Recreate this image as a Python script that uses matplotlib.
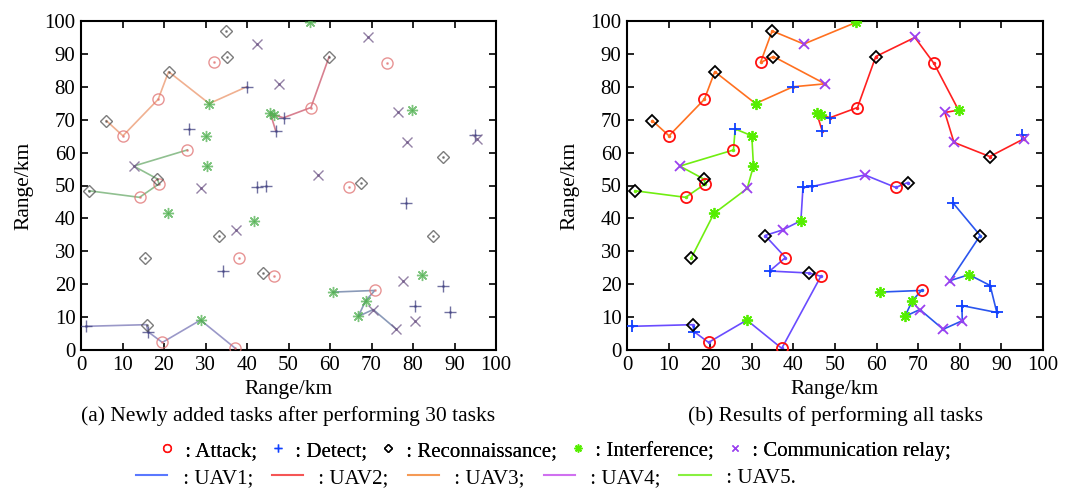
import numpy as np
import matplotlib
matplotlib.use("Agg")
from matplotlib import pyplot as plt
from matplotlib.lines import Line2D

plt.rcParams['font.family'] = ['Liberation Serif', 'DejaVu Serif']

# task positions (km), by task type
attack_x = [10.1, 18.6, 32.1, 55.4, 73.8, 14.1, 18.8, 25.6, 64.6, 38.1, 46.6, 19.6, 37.2, 70.8]
attack_y = [65.1, 76.2, 87.4, 73.7, 87.1, 46.4, 50.5, 60.8, 49.4, 28.1, 22.4, 2.3, 0.5, 18.1]
detect_x = [39.9, 46.9, 48.8, 95.0, 26.0, 42.3, 44.5, 78.3, 34.3, 1.2, 16.1, 87.3, 88.9, 80.5]
detect_y = [80.0, 66.7, 70.6, 65.2, 67.2, 49.4, 49.7, 44.8, 24.0, 7.2, 5.6, 19.6, 11.4, 13.5]
recon_x = [6.1, 21.1, 35.2, 34.9, 59.8, 87.2, 1.9, 18.4, 67.5, 33.2, 84.9, 15.5, 43.8, 15.8]
recon_y = [69.7, 84.6, 89.2, 97.0, 89.2, 58.8, 48.4, 52.0, 50.9, 34.8, 34.8, 28.1, 23.4, 7.7]
interf_x = [30.9, 55.1, 45.6, 46.6, 79.7, 30.0, 30.4, 20.9, 41.8, 82.2, 60.7, 68.6, 66.8, 28.8]
interf_y = [74.9, 99.6, 72.0, 71.4, 72.9, 65.1, 55.9, 41.5, 39.3, 22.9, 17.6, 15.0, 10.2, 9.1]
relay_x = [47.6, 42.5, 69.2, 76.4, 78.6, 95.4, 12.7, 28.9, 57.2, 37.4, 77.7, 80.6, 76.0, 70.4]
relay_y = [80.9, 93.0, 95.0, 72.2, 63.1, 64.2, 55.9, 49.1, 53.2, 36.5, 21.1, 8.9, 6.3, 12.3]

# UAV routes in execution order
uav1_x = [60.7, 70.8, 68.6, 66.8, 70.4, 76.0, 80.6, 80.5, 88.9, 87.3, 82.2, 77.7, 84.9, 78.3]
uav1_y = [17.6, 18.1, 15.0, 10.2, 12.3, 6.3, 8.9, 13.5, 11.4, 19.6, 22.9, 21.1, 34.8, 44.8]
uav2_x = [46.9, 45.6, 46.6, 48.8, 55.4, 59.8, 69.2, 73.8, 79.7, 76.4, 78.6, 87.2, 95.4, 95.0]
uav2_y = [66.7, 72.0, 71.4, 70.6, 73.7, 89.2, 95.0, 87.1, 72.9, 72.2, 63.1, 58.8, 64.2, 65.2]
uav3_x = [6.1, 10.1, 18.6, 21.1, 30.9, 39.9, 47.6, 35.2, 32.1, 34.9, 42.5, 55.1]
uav3_y = [69.7, 65.1, 76.2, 84.6, 74.9, 80.0, 80.9, 89.2, 87.4, 97.0, 93.0, 99.6]
uav4_x = [1.2, 15.8, 16.1, 19.6, 28.8, 37.2, 46.6, 43.8, 34.3, 38.1, 33.2, 37.4, 41.8, 42.3, 44.5, 57.2, 64.6, 67.5]
uav4_y = [7.2, 7.7, 5.6, 2.3, 9.1, 0.5, 22.4, 23.4, 24.0, 28.1, 34.8, 36.5, 39.3, 49.4, 49.7, 53.2, 49.4, 50.9]
uav5_x = [1.9, 14.1, 18.8, 18.4, 12.7, 25.6, 26.0, 30.0, 30.4, 28.9, 20.9, 15.5]
uav5_y = [48.4, 46.4, 50.5, 52.0, 55.9, 60.8, 67.2, 65.1, 55.9, 49.1, 41.5, 28.1]

done_per_uav = 6  # 30 tasks finished = 6 per UAV

routes = [(uav1_x, uav1_y), (uav2_x, uav2_y), (uav3_x, uav3_y), (uav4_x, uav4_y), (uav5_x, uav5_y)]
route_colors = ['#2a55ee', '#ff2020', '#ff7020', '#6a4cff', '#70ee10']
faded_route_colors = ['#8a9ab8', '#d88090', '#f0b090', '#9a98c8', '#90c090']
legend_line_colors = ['#5a78ff', '#f55555', '#f59a55', '#d070f0', '#88f040']
uav_labels = [' : UAV1;', ' : UAV2;', ' : UAV3;', ' : UAV4;', ' : UAV5.']

task_sets = [(attack_x, attack_y), (detect_x, detect_y), (recon_x, recon_y),
             (interf_x, interf_y), (relay_x, relay_y)]
task_markers = ['o', '+', 'D', (8, 2, 0), 'x']
task_sizes = [8, 8, 6.5, 8, 6.5]
task_colors = ['#ff1010', '#1040ff', '#000000', '#55ee00', '#9a40f0']
faded_task_colors = ['#e07070', '#404080', '#505050', '#50b050', '#705888']
task_labels = [' : Attack;', ' : Detect;', ' : Reconnaissance;', ' : Interference;', ' : Communication relay;']

fig = plt.figure(figsize=(10.67, 4.93), dpi=100)
ax1 = fig.add_axes([81 / 1067, 143 / 493, 415 / 1067, 329 / 493])
ax2 = fig.add_axes([627 / 1067, 143 / 493, 416 / 1067, 329 / 493])

# (a) faded tasks + first segments of routes
for (rx, ry), c in zip(routes, faded_route_colors):
    ax1.plot(rx[:done_per_uav], ry[:done_per_uav], color=c, lw=1.2, zorder=2)
for (tx, ty), m, s, c in zip(task_sets, task_markers, task_sizes, faded_task_colors):
    ax1.plot(tx, ty, ls='none', marker=m, ms=s, mfc='none', mec=c, mew=1.0, alpha=0.75, zorder=3)
    ax1.plot(tx, ty, ls='none', marker='.', ms=2, color=c, alpha=0.6, zorder=3)

# (b) full routes
for (rx, ry), c in zip(routes, route_colors):
    ax2.plot(rx, ry, color=c, lw=1.2, marker='.', ms=3, zorder=2)
for (tx, ty), m, s, c in zip(task_sets, task_markers, task_sizes, task_colors):
    ax2.plot(tx, ty, ls='none', marker=m, ms=s, mfc='none', mec=c, mew=1.3, zorder=3)

for ax in (ax1, ax2):
    ax.set_xlim(0, 100)
    ax.set_ylim(0, 100)
    ax.set_xticks(np.arange(0, 101, 10))
    ax.set_yticks(np.arange(0, 101, 10))
    ax.tick_params(direction='in', top=True, right=True, length=5, width=1.2, labelsize=15, pad=4)
    for sp in ax.spines.values():
        sp.set_linewidth(1.5)
    ax.set_xlabel('Range/km', fontsize=15.5, labelpad=4)
    ax.set_ylabel('Range/km', fontsize=15.5, labelpad=8)

fig.text(288 / 1067, 1 - 416 / 493, '(a) Newly added tasks after performing 30 tasks',
         ha='center', va='center', fontsize=15.5)
fig.text(835 / 1067, 1 - 416 / 493, '(b) Results of performing all tasks',
         ha='center', va='center', fontsize=15.5)

task_handles = [Line2D([], [], ls='none', marker=m, ms=s * 0.7, mfc='none', mec=c, mew=1.0)
                for m, s, c in zip(task_markers, task_sizes, task_colors)]
leg1 = fig.legend(task_handles, task_labels, loc='center', bbox_to_anchor=(554 / 1067, 1 - 451 / 493),
                  ncol=5, frameon=False, fontsize=15, handlelength=1.0, handletextpad=0.1,
                  columnspacing=0.5, borderpad=0)
uav_handles = [Line2D([], [], color=c, lw=1.5) for c in legend_line_colors]
leg2 = fig.legend(uav_handles, uav_labels, loc='center', bbox_to_anchor=(466 / 1067, 1 - 478 / 493),
                  ncol=5, frameon=False, fontsize=15, handlelength=1.5, handletextpad=0.5,
                  columnspacing=0.9, borderpad=0)
fig.add_artist(leg1)

fig.savefig('out.png', dpi=100)
